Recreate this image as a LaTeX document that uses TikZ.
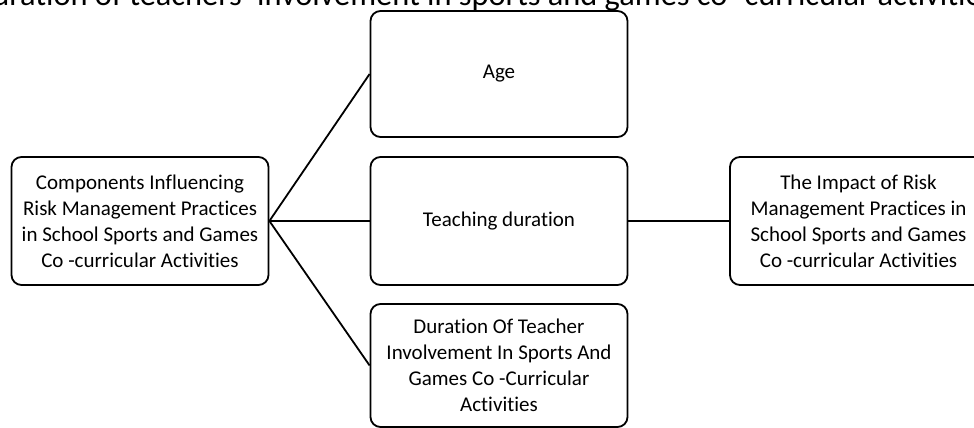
\documentclass[tikz,border=0pt]{standalone}
\usepackage{fontspec}
\setmainfont[Ligatures=NoCommon]{Carlito}
\begin{document}
\begin{tikzpicture}[x=1pt,y=1pt,
    kotak/.style={draw, line width=1.8pt, rounded corners=10pt, align=center,
        minimum width=257pt, inner sep=0pt, font=\fontsize{21}{26}\selectfont}]
        \useasboundingbox (0,0) rectangle (974,428);
        \node[anchor=base, font=\fontsize{32.4}{38}\selectfont] (judul) at (483.5,422) {Duration of teachers' involvement in sports and games co -curricular activities};

        \node[kotak, minimum height=128pt] (komponen) at (140,207) {Components Influencing\\Risk Management Practices\\in School Sports and Games\\Co -curricular Activities};
        \node[kotak, minimum height=126pt] (usia) at (499,354) {Age};
        \node[kotak, minimum height=128pt] (lama) at (499,207) {Teaching duration};
        \node[kotak, minimum height=123pt] (keterlibatan) at (499,62.5) {Duration Of Teacher\\Involvement In Sports And\\Games Co -Curricular\\Activities};
        \node[kotak, minimum height=128pt] (dampak) at (858.5,207) {The Impact of Risk\\Management Practices in\\School Sports and Games\\Co -curricular Activities};

        \draw[line width=1.8pt] (komponen.east) -- (usia.west);
        \draw[line width=1.8pt] (komponen.east) -- (lama.west);
        \draw[line width=1.8pt] (komponen.east) -- (keterlibatan.west);
        \draw[line width=1.8pt] (lama.east) -- (dampak.west);
    \end{tikzpicture}
\end{document}
